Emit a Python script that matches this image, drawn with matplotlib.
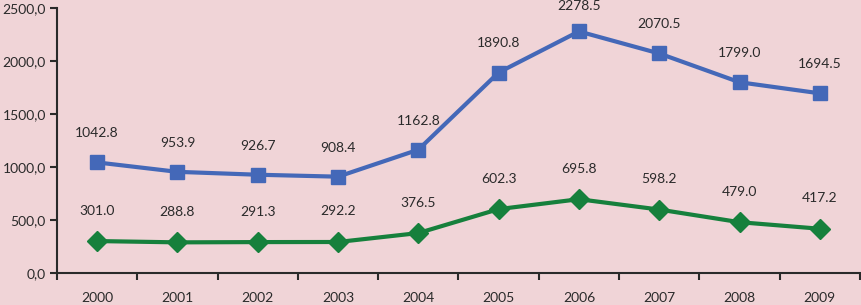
import matplotlib as mpl
mpl.use("Agg")
from matplotlib import pyplot as plt
import numpy as np

years = ["2000", "2001", "2002", "2003", "2004", "2005", "2006", "2007", "2008", "2009"]
upper = [1042.8, 953.9, 926.7, 908.4, 1162.8, 1890.8, 2278.5, 2070.5, 1799.0, 1694.5]
lower = [301.0, 288.8, 291.3, 292.2, 376.5, 602.3, 695.8, 598.2, 479.0, 417.2]
yticks = [0, 500, 1000, 1500, 2000, 2500]

bg = '#f0d4d7'
blue = '#4468b8'
green = '#16803c'
ink = '#2a2a2a'

mpl.rc('font', family='Lato', size=10)

fig = plt.figure(figsize=(8.61, 3.05), dpi=100, facecolor=bg)
ax = fig.add_axes([0.0662, 0.105, 0.9326, 0.869], facecolor=bg)

x = np.arange(len(years))
ax.plot(x, upper, color=blue, lw=3, marker='s', ms=10, mec=blue, mfc=blue)
ax.plot(x, lower, color=green, lw=3, marker='D', ms=10, mec=green, mfc=green)

for xi, v in zip(x, upper):
    # the peak label sits right at the top edge, nudge it down a touch
    dy = 18 if v == max(upper) else 21
    ax.annotate("%.1f" % v, (xi, v), xytext=(0, dy), textcoords='offset points',
                ha='center', va='center', color=ink, fontsize=10)
for xi, v in zip(x, lower):
    ax.annotate("%.1f" % v, (xi, v), xytext=(0, 22), textcoords='offset points',
                ha='center', va='center', color=ink, fontsize=10)

ax.set_xlim(-0.5, len(years) - 0.5)
ax.set_ylim(0, 2500)
ax.set_yticks(yticks)
ax.set_yticklabels(["%d,0" % t for t in yticks], color=ink)
ax.set_xticks(x)
ax.set_xticklabels(years, color=ink)
ax.set_xticks(np.arange(-0.5, len(years)), minor=True)
ax.tick_params(axis='x', which='major', length=0, pad=14)
ax.tick_params(axis='x', which='minor', length=5, width=1.5, direction='out', color=ink)
ax.tick_params(axis='y', length=5, width=1.5, direction='out', color=ink, pad=3)

for s in ['top', 'right']:
    ax.spines[s].set_visible(False)
for s in ['left', 'bottom']:
    ax.spines[s].set_color(ink)
    ax.spines[s].set_linewidth(1.5)

fig.savefig('out.png', dpi=100, facecolor=bg)
